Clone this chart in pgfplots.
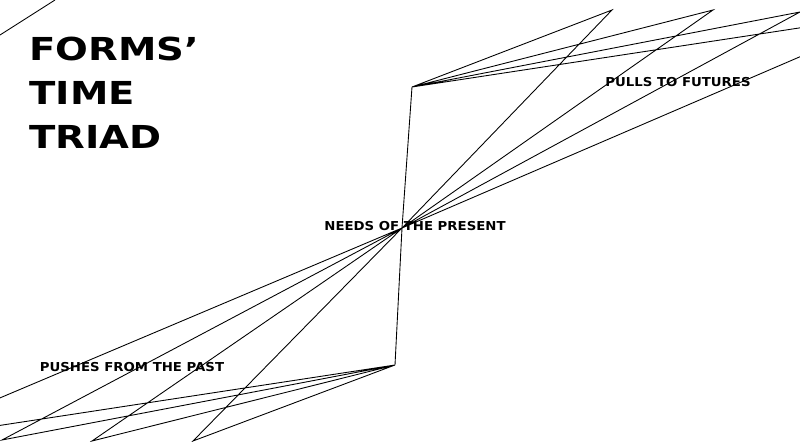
\documentclass[border=0pt]{standalone}
\usepackage{pgfplots}
\pgfplotsset{compat=1.18}
\usepackage{fontspec}
\setmainfont{DejaVu Sans}
\begin{document}
\begin{tikzpicture}
\begin{axis}[scale only axis, width=16cm, height=9cm, xmin=0, xmax=800, ymin=0, ymax=450, y dir=reverse, hide axis, clip=true]
\addplot[black, line width=0.5pt] coordinates {(412,87) (402,228) (395,365)};
\addplot[black, line width=0.5pt] coordinates {(412,87) (612,10) (402,228) (713,10) (412,87) (800,12) (402,228) (904,12) (412,87)};
\addplot[black, line width=0.5pt] coordinates {(395,365) (193,441) (402,228) (92,441) (395,365) (2,440) (402,228) (-102,441) (395,365)};
\addplot[black, line width=0.5pt] coordinates {(0,35) (55,0)};
\node[anchor=north west, align=left, font=\bfseries\fontsize{18}{25}\selectfont, inner sep=0pt, xscale=1.22] at (axis cs:29,37) {FORMS'\\TIME\\TRIAD};
\node[font=\bfseries\fontsize{7}{8}\selectfont, inner sep=1pt, xscale=1.08] at (axis cs:415,226) {NEEDS OF THE PRESENT};
\node[font=\bfseries\fontsize{7}{8}\selectfont, inner sep=1pt, xscale=1.08] at (axis cs:678,82) {PULLS TO FUTURES};
\node[font=\bfseries\fontsize{7}{8}\selectfont, inner sep=1pt, xscale=1.08] at (axis cs:132,367) {PUSHES FROM THE PAST};
\end{axis}
\end{tikzpicture}
\end{document}
